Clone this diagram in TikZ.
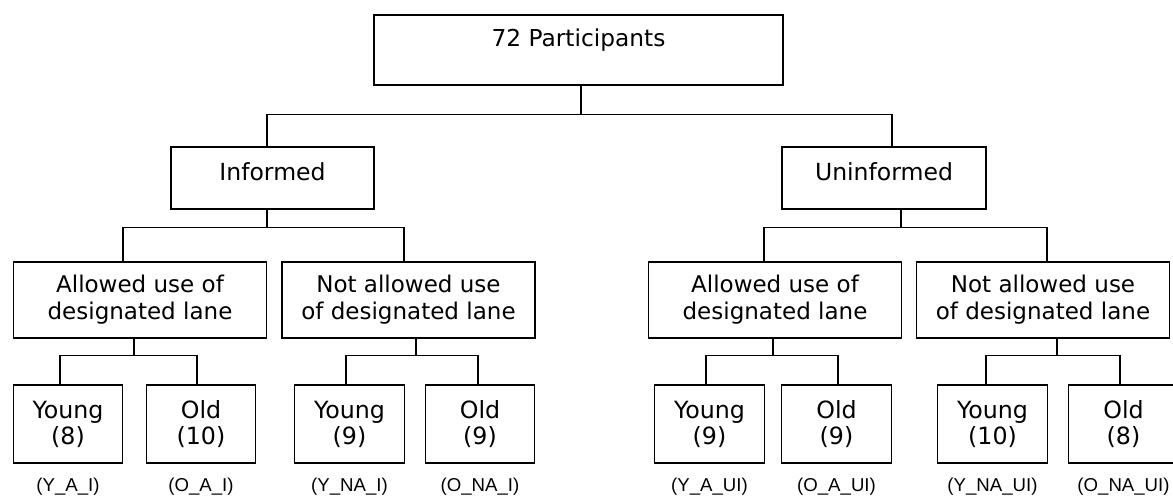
\documentclass[tikz,border=0pt]{standalone}
\usepackage{fontspec}
\setmainfont{DejaVu Sans}
\newfontfamily\labfont{Liberation Sans}
\usepackage{tikz}
\usetikzlibrary{positioning,calc}
\tikzset{
  box/.style={draw,line width=0.8pt,inner sep=0pt,align=center},
  head/.style={box,minimum width=8.18cm,minimum height=1.4cm,text height=0.63cm,text depth=0.77cm,font=\fontsize{13.25}{15.5}\selectfont},
  grp/.style={box,minimum width=4.06cm,minimum height=1.24cm,text height=0.66cm,text depth=0.58cm,font=\fontsize{13.4}{15.5}\selectfont},
  cond/.style={box,minimum width=5.06cm,minimum height=1.52cm,font=\fontsize{13.1}{15.5}\selectfont},
  age/.style={box,minimum width=2.19cm,minimum height=1.56cm,font=\fontsize{13.5}{14.8}\selectfont},
  link/.style={line width=0.8pt},
  code/.style={font=\labfont\fontsize{10.6}{12}\selectfont}
}

\begin{document}
\begin{tikzpicture}[x=0.02cm,y=-0.02cm]
    \useasboundingbox (0,0) rectangle (1173,495);
    % top and groups
    \node[head] (part) at (578.5,50) {72 Participants};
    \node[grp] (inf) at (272.5,178) {Informed};
    \node[grp,minimum width=4.08cm] (uninf) at (884,178) {Uninformed};
    % lane conditions
    \node[cond] (allowI) at (140,300) {Allowed use of\\designated lane};
    \node[cond] (notI) at (408.5,300) {Not allowed use\\of designated lane};
    \node[cond] (allowU) at (775,300) {Allowed use of\\designated lane};
    \node[cond] (notU) at (1043,300) {Not allowed use\\of designated lane};
    % age groups
    \node[age] (yAI) at (68,424) {Young\\(8)};
    \node[age] (oAI) at (201,424) {Old\\(10)};
    \node[age] (yNAI) at (349.5,424) {Young\\(9)};
    \node[age] (oNAI) at (480,424) {Old\\(9)};
    \node[age] (yAU) at (709.5,424) {Young\\(9)};
    \node[age] (oAU) at (836.5,424) {Old\\(9)};
    \node[age] (yNAU) at (992.5,424) {Young\\(10)};
    \node[age] (oNAU) at (1123.5,424) {Old\\(8)};
    \node[code] (lYAI) at (68,487) {(Y\_A\_I)};
    \node[code] (lOAI) at (201,487) {(O\_A\_I)};
    \node[code] (lYNAI) at (349.5,487) {(Y\_NA\_I)};
    \node[code] (lONAI) at (480,487) {(O\_NA\_I)};
    \node[code] (lYAU) at (709.5,487) {(Y\_A\_UI)};
    \node[code] (lOAU) at (836.5,487) {(O\_A\_UI)};
    \node[code] (lYNAU) at (992.5,487) {(Y\_NA\_UI)};
    \node[code] (lONAU) at (1123.5,487) {(O\_NA\_UI)};
    % connectors
    \draw[link] ($(part.south)+(2.5,0)$) -- ++(0,29) coordinate (b0) -| ($(inf.north)+(-5.5,0)$);
    \draw[link] (b0) -| ($(uninf.north)+(8,0)$);
    \draw[link] ($(inf.south)+(-5.5,0)$) -- ++(0,18) coordinate (b1) -| ($(allowI.north)+(-17,0)$);
    \draw[link] (b1) -| ($(notI.north)+(-4.5,0)$);
    \draw[link] ($(uninf.south)+(17,0)$) -- ++(0,18) coordinate (b2) -| ($(allowU.north)+(-11,0)$);
    \draw[link] (b2) -| ($(notU.north)+(4,0)$);
    \draw[link] ($(allowI.south)+(-6,0)$) -- ++(0,17) coordinate (b3) -| ($(yAI.north)+(-8,0)$);
    \draw[link] (b3) -| ($(oAI.north)+(-4,0)$);
    \draw[link] ($(notI.south)+(7.5,0)$) -- ++(0,17) coordinate (b4) -| ($(yNAI.north)+(-3.5,0)$);
    \draw[link] (b4) -| ($(oNAI.north)+(-2,0)$);
    \draw[link] ($(allowU.south)+(-2,0)$) -- ++(0,17) coordinate (b5) -| ($(yAU.north)+(-3.5,0)$);
    \draw[link] (b5) -| ($(oAU.north)+(1.5,0)$);
    \draw[link] ($(notU.south)+(14,0)$) -- ++(0,17) coordinate (b6) -| ($(yNAU.north)+(-6.5,0)$);
    \draw[link] (b6) -| ($(oNAU.north)+(-3.5,0)$);
  \end{tikzpicture}
\end{document}
